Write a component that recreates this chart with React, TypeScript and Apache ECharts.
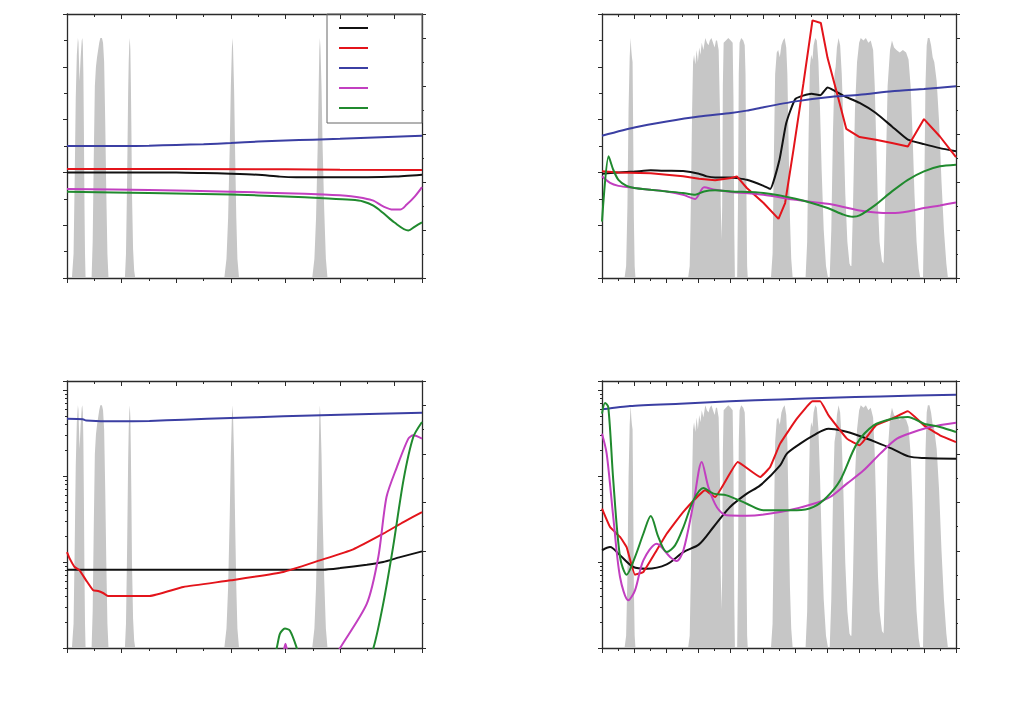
import React, { useEffect, useRef } from 'react';
import * as echarts from 'echarts';

// ---------- names & colours ----------
const SERIES_NAMES = ['Series 1', 'Series 2', 'Series 3', 'Series 4', 'Series 5'];
const SERIES_COLORS = ['#111111', '#e3141b', '#3b3fa3', '#c23fc0', '#208a2e'];
const BAND_COLOR = '#c6c6c6';

// ---------- band transmission (right axis, %) ----------
const bandsLeft: number[][] = [
  [400, 0], [409, 0], [412, 10], [414, 40], [416, 75], [418, 93], [420, 100], [421, 98], [422, 90], [423, 82], [424, 82], [425, 92], [427, 99], [428, 100], [429, 97], [430, 85], [431, 60], [432, 30], [433, 10], [434, 0],
  [445, 0], [447, 15], [449, 50], [451, 80], [453, 88], [455, 92], [457, 95], [459, 98], [461, 100], [464, 100], [466, 98], [468, 90], [470, 65], [472, 35], [474, 10], [476, 0],
  [506, 0], [508, 10], [510, 40], [512, 78], [513, 90], [514, 97], [515, 100], [516, 95], [517, 80], [518, 60], [519, 35], [521, 12], [523, 3], [525, 0],
  [688, 0], [692, 8], [695, 25], [698, 55], [700, 80], [702, 96], [703, 100], [704, 96], [706, 78], [708, 50], [710, 25], [712, 8], [715, 0],
  [849, 0], [853, 8], [856, 25], [859, 55], [861, 82], [862, 95], [863, 100], [864, 96], [866, 80], [868, 55], [871, 28], [874, 8], [877, 0],
  [1050, 0],
];

const bandsRight: number[][] = [
  [400, 0], [540, 0], [550, 5], [558, 30], [565, 70], [572, 92], [578, 100], [582, 95], [586, 92], [590, 90], [594, 60], [598, 25], [603, 5], [608, 0],
  [935, 0], [945, 5], [952, 30], [960, 70], [966, 90], [972, 93], [980, 89], [988, 95], [996, 90], [1004, 96], [1012, 93], [1020, 98], [1030, 95], [1042, 100], [1052, 98], [1062, 97], [1070, 99], [1080, 100], [1090, 98], [1100, 96], [1108, 99], [1115, 99], [1125, 95], [1133, 70], [1138, 30], [1143, 16], [1147, 30], [1151, 80], [1156, 98], [1170, 99], [1185, 100], [1200, 99], [1212, 98], [1217, 75], [1222, 20], [1226, 0],
  [1240, 0], [1245, 30], [1250, 85], [1255, 98], [1265, 100], [1278, 99], [1287, 97], [1292, 85], [1297, 40], [1302, 5], [1306, 0],
  [1450, 0], [1460, 10], [1468, 50], [1476, 85], [1486, 94], [1495, 95], [1505, 92], [1515, 97], [1525, 99], [1535, 100], [1545, 96], [1552, 85], [1560, 55], [1568, 25], [1576, 8], [1585, 0],
  [1665, 0], [1675, 15], [1684, 60], [1692, 88], [1700, 93], [1708, 91], [1715, 97], [1725, 100], [1735, 99], [1745, 90], [1755, 70], [1765, 45], [1778, 20], [1792, 5], [1805, 0],
  [1815, 0], [1825, 20], [1835, 60], [1845, 85], [1852, 88], [1860, 96], [1870, 100], [1880, 97], [1890, 85], [1900, 65], [1912, 35], [1925, 15], [1938, 6], [1945, 5],
  [1950, 5], [1960, 30], [1972, 70], [1985, 90], [1998, 98], [2008, 100], [2025, 99], [2040, 100], [2055, 98], [2070, 99], [2085, 95], [2095, 80], [2105, 55], [2115, 30], [2125, 15], [2140, 7], [2150, 6],
  [2152, 10], [2162, 40], [2175, 80], [2190, 95], [2202, 99], [2215, 96], [2230, 95], [2250, 94], [2270, 95], [2290, 94], [2305, 91], [2318, 80], [2330, 60], [2342, 35], [2355, 15], [2368, 4], [2378, 0],
  [2395, 0], [2402, 30], [2410, 80], [2418, 97], [2425, 100], [2435, 100], [2445, 97], [2455, 92], [2465, 90], [2480, 82], [2495, 65], [2510, 40], [2525, 20], [2540, 6], [2550, 0],
  [2600, 0],
];

// ---------- top-left panel ----------
const tlBlack = [[400, 0], [600, 0], [650, -0.002], [700, -0.005], [750, -0.009], [790, -0.016], [820, -0.018], [950, -0.018], [1000, -0.016], [1050, -0.009]];
const tlRed = [[400, 0.013], [600, 0.013], [800, 0.012], [900, 0.010], [1050, 0.009]];
const tlBlue = [[400, 0.100], [500, 0.100], [550, 0.101], [600, 0.104], [650, 0.107], [700, 0.111], [750, 0.117], [800, 0.121], [850, 0.124], [900, 0.127], [950, 0.131], [1000, 0.135], [1050, 0.139]];
const tlMagenta = [[400, -0.063], [550, -0.067], [700, -0.073], [800, -0.079], [870, -0.084], [920, -0.090], [942, -0.097], [961, -0.107], [979, -0.129], [997, -0.141], [1010, -0.141], [1022, -0.122], [1037, -0.091], [1050, -0.056]];
const tlGreen = [[400, -0.073], [550, -0.078], [700, -0.084], [800, -0.091], [870, -0.098], [920, -0.104], [942, -0.110], [961, -0.126], [979, -0.154], [999, -0.189], [1025, -0.220], [1037, -0.205], [1050, -0.189]];

// ---------- top-right panel ----------
const trBlack = [[400, -0.005], [502, 0], [601, 0.003], [703, 0.008], [802, 0.006], [904, 0.005], [1003, -0.005], [1051, -0.015], [1103, -0.019], [1202, -0.019], [1300, -0.028], [1404, -0.051], [1445, -0.063], [1503, 0.048], [1545, 0.187], [1603, 0.279], [1702, 0.298], [1756, 0.292], [1802, 0.322], [1901, 0.290], [2001, 0.263], [2102, 0.225], [2202, 0.174], [2301, 0.124], [2401, 0.107], [2500, 0.092], [2600, 0.080]];
const trRed = [[400, 0.004], [502, 0], [703, -0.003], [802, -0.009], [904, -0.015], [1003, -0.024], [1103, -0.030], [1202, -0.021], [1238, -0.015], [1300, -0.059], [1404, -0.116], [1497, -0.176], [1538, -0.116], [1590, 0.086], [1652, 0.338], [1708, 0.576], [1760, 0.566], [1802, 0.433], [1860, 0.301], [1918, 0.165], [2001, 0.134], [2102, 0.124], [2202, 0.111], [2301, 0.098], [2401, 0.202], [2500, 0.136], [2600, 0.058]];
const trBlue = [[400, 0.139], [601, 0.170], [802, 0.193], [1003, 0.212], [1202, 0.225], [1300, 0.234], [1404, 0.247], [1603, 0.269], [1802, 0.285], [2001, 0.294], [2202, 0.307], [2401, 0.316], [2600, 0.326]];
const trMagenta = [[400, -0.015], [450, -0.040], [502, -0.051], [601, -0.059], [703, -0.066], [802, -0.072], [904, -0.085], [979, -0.101], [1034, -0.056], [1103, -0.066], [1202, -0.074], [1404, -0.085], [1603, -0.104], [1802, -0.119], [1901, -0.131], [2001, -0.144], [2102, -0.152], [2202, -0.154], [2301, -0.148], [2401, -0.135], [2500, -0.125], [2600, -0.114]];
const trGreen = [[400, -0.186], [441, 0.061], [470, 0.010], [502, -0.028], [553, -0.051], [601, -0.059], [703, -0.066], [802, -0.072], [904, -0.078], [979, -0.085], [1034, -0.072], [1103, -0.068], [1202, -0.072], [1404, -0.078], [1603, -0.100], [1802, -0.135], [1901, -0.160], [1959, -0.168], [2001, -0.163], [2102, -0.122], [2202, -0.072], [2301, -0.028], [2401, 0.004], [2500, 0.023], [2600, 0.029]];

// ---------- bottom-left panel (log) ----------
const blBlack = [[400, 0.00815], [869, 0.00815], [900, 0.0085], [949, 0.0093], [979, 0.0100], [1010, 0.0114], [1050, 0.0133]];
const blRed = [[400, 0.01306], [405, 0.01094], [414, 0.00875], [423, 0.0080], [435, 0.00612], [448, 0.00469], [457, 0.0046], [466, 0.00436], [475, 0.00403], [551, 0.00403], [613, 0.00512], [700, 0.00612], [796, 0.00766], [863, 0.01045], [924, 0.01403], [979, 0.02133], [1016, 0.02917], [1050, 0.0381]];
const blBlue = [[400, 0.464], [429, 0.458], [435, 0.443], [490, 0.432], [551, 0.436], [613, 0.452], [700, 0.472], [796, 0.494], [900, 0.517], [1050, 0.545]];
const blMagenta = [[400, 0.0002], [780, 0.0004], [795, 0.0008], [800, 0.00112], [805, 0.0008], [820, 0.0004], [880, 0.0006], [900, 0.001], [949, 0.00328], [970, 0.01143], [985, 0.0570], [1004, 0.127], [1025, 0.272], [1034, 0.297], [1050, 0.272]];
const blGreen = [[400, 0.0002], [770, 0.0005], [784, 0.001], [790, 0.00147], [799, 0.00168], [808, 0.0016], [820, 0.00103], [830, 0.0006], [940, 0.0005], [961, 0.001], [979, 0.00328], [997, 0.0149], [1016, 0.0891], [1034, 0.284], [1050, 0.425]];

// ---------- bottom-right panel (log) ----------
const brBlack = [[400, 0.01368], [450, 0.0149], [512, 0.01197], [595, 0.00875], [678, 0.00836], [802, 0.0094], [906, 0.01306], [1003, 0.01603], [1093, 0.02553], [1196, 0.04365], [1300, 0.0624], [1383, 0.0778], [1507, 0.133], [1549, 0.182], [1632, 0.238], [1715, 0.297], [1808, 0.355], [1901, 0.333], [2001, 0.292], [2102, 0.248], [2202, 0.208], [2306, 0.169], [2401, 0.162], [2600, 0.159]];
const brRed = [[400, 0.0417], [450, 0.0255], [512, 0.01955], [553, 0.0149], [605, 0.00713], [657, 0.00766], [740, 0.01368], [802, 0.0213], [904, 0.0381], [1041, 0.0681], [1103, 0.0570], [1244, 0.1455], [1383, 0.0973], [1445, 0.1274], [1507, 0.238], [1611, 0.464], [1708, 0.738], [1756, 0.738], [1808, 0.507], [1922, 0.272], [2001, 0.228], [2102, 0.388], [2202, 0.464], [2301, 0.565], [2401, 0.388], [2500, 0.297], [2600, 0.248]];
const brBlue = [[400, 0.596], [574, 0.652], [885, 0.694], [1196, 0.738], [1507, 0.778], [1818, 0.814], [2129, 0.843], [2600, 0.883]];
const brMagenta = [[400, 0.310], [429, 0.182], [470, 0.0333], [512, 0.0067], [564, 0.00358], [605, 0.00469], [657, 0.01045], [740, 0.0163], [823, 0.01143], [864, 0.01028], [906, 0.0137], [968, 0.0476], [1020, 0.1455], [1061, 0.0745], [1113, 0.0437], [1175, 0.0349], [1300, 0.0345], [1507, 0.0381], [1715, 0.0476], [1818, 0.0570], [1922, 0.0815], [2026, 0.1164], [2129, 0.182], [2233, 0.272], [2337, 0.325], [2440, 0.372], [2600, 0.417]];
const brGreen = [[400, 0.531], [419, 0.706], [439, 0.634], [470, 0.0891], [512, 0.01143], [553, 0.00713], [605, 0.01143], [657, 0.0213], [703, 0.0343], [750, 0.01955], [802, 0.01306], [854, 0.01563], [906, 0.0255], [968, 0.0521], [1030, 0.0724], [1093, 0.0624], [1175, 0.0596], [1300, 0.0476], [1404, 0.0399], [1611, 0.0399], [1715, 0.0437], [1798, 0.0570], [1880, 0.0891], [1984, 0.238], [2088, 0.388], [2202, 0.464], [2301, 0.485], [2401, 0.406], [2500, 0.372], [2600, 0.325]];

// ---------- layout ----------
const GRIDS = [
  { left: 67, top: 14, width: 355, height: 264 },
  { left: 602, top: 14, width: 354, height: 264 },
  { left: 67, top: 381, width: 355, height: 267 },
  { left: 602, top: 381, width: 354, height: 267 },
];

const AXIS_COLOR = '#2a2a2a';

function xAxes(gridIndex: number, min: number, max: number, interval: number) {
  const base = {
    type: 'value',
    gridIndex,
    min,
    max,
    interval,
    axisLine: { show: true, onZero: false, lineStyle: { color: AXIS_COLOR, width: 1.3 } },
    axisLabel: { show: false },
    splitLine: { show: false },
    minorTick: { show: true, splitNumber: 2, length: 3, lineStyle: { color: AXIS_COLOR, width: 1 } },
  };
  return [
    { ...base, position: 'bottom', axisTick: { show: true, inside: false, length: 5, lineStyle: { color: AXIS_COLOR, width: 1 } } },
    { ...base, position: 'top', axisTick: { show: true, inside: true, length: 5, lineStyle: { color: AXIS_COLOR, width: 1 } } },
  ];
}

function yAxes(gridIndex: number, log: boolean) {
  const common = {
    gridIndex,
    axisLine: { show: true, onZero: false, lineStyle: { color: AXIS_COLOR, width: 1.3 } },
    axisLabel: { show: false },
    splitLine: { show: false },
  };
  const left = log
    ? {
        ...common,
        type: 'log',
        logBase: 10,
        min: 0.001,
        max: 1.273,
        position: 'left',
        axisTick: { show: true, length: 4, lineStyle: { color: AXIS_COLOR, width: 1 } },
        minorTick: { show: true, splitNumber: 9, length: 2, lineStyle: { color: AXIS_COLOR, width: 1 } },
      }
    : {
        ...common,
        type: 'value',
        min: -0.4,
        max: 0.6,
        interval: 0.2,
        position: 'left',
        axisTick: { show: true, length: 4, lineStyle: { color: AXIS_COLOR, width: 1 } },
        minorTick: { show: true, splitNumber: 2, length: 3, lineStyle: { color: AXIS_COLOR, width: 1 } },
      };
  const right = {
    ...common,
    type: 'value',
    min: 0,
    max: 110,
    interval: 20,
    position: 'right',
    axisTick: { show: true, length: 4, lineStyle: { color: AXIS_COLOR, width: 1 } },
    minorTick: { show: true, splitNumber: 2, length: 2, lineStyle: { color: AXIS_COLOR, width: 1 } },
  };
  return [left, right];
}

function bandSeries(gridIndex: number, data: number[][]) {
  return {
    type: 'line',
    xAxisIndex: gridIndex * 2,
    yAxisIndex: gridIndex * 2 + 1,
    data,
    symbol: 'none',
    lineStyle: { width: 0 },
    areaStyle: { color: BAND_COLOR, opacity: 1 },
    itemStyle: { color: BAND_COLOR },
    z: 1,
    silent: true,
  };
}

function lineSeries(gridIndex: number, idx: number, data: number[][], smooth: number) {
  return {
    type: 'line',
    name: SERIES_NAMES[idx],
    xAxisIndex: gridIndex * 2,
    yAxisIndex: gridIndex * 2,
    data,
    symbol: 'none',
    smooth,
    clip: true,
    color: SERIES_COLORS[idx],
    lineStyle: { color: SERIES_COLORS[idx], width: 2 },
    z: 3,
  };
}

export default function App() {
  const ref = useRef<HTMLDivElement>(null);

  useEffect(() => {
    document.body.style.margin = '0';
    if (!ref.current) return;
    const chart = echarts.init(ref.current, undefined, { renderer: 'svg' });

    const panels = [
      { lines: [tlBlack, tlRed, tlBlue, tlMagenta, tlGreen], smooth: [0.2, 0, 0.2, 0.3, 0.3], bands: bandsLeft },
      { lines: [trBlack, trRed, trBlue, trMagenta, trGreen], smooth: [0.15, 0, 0.2, 0.25, 0.25], bands: bandsRight },
      { lines: [blBlack, blRed, blBlue, blMagenta, blGreen], smooth: [0.2, 0.15, 0.2, 0.25, 0.25], bands: bandsLeft },
      { lines: [brBlack, brRed, brBlue, brMagenta, brGreen], smooth: [0.3, 0.1, 0.2, 0.3, 0.3], bands: bandsRight },
    ];

    const series: any[] = [];
    panels.forEach((p, g) => {
      series.push(bandSeries(g, p.bands));
      p.lines.forEach((d, i) => series.push(lineSeries(g, i, d, p.smooth[i])));
    });

    const option: any = {
      animation: false,
      backgroundColor: '#ffffff',
      grid: GRIDS.map((g) => ({ ...g, containLabel: false })),
      xAxis: [
        ...xAxes(0, 400, 1050, 100),
        ...xAxes(1, 400, 2600, 200),
        ...xAxes(2, 400, 1050, 100),
        ...xAxes(3, 400, 2600, 200),
      ],
      yAxis: [...yAxes(0, false), ...yAxes(1, false), ...yAxes(2, true), ...yAxes(3, true)],
      legend: {
        show: true,
        orient: 'vertical',
        left: 327,
        top: 14,
        padding: [13, 54, 14, 12],
        itemWidth: 29,
        itemHeight: 2,
        itemGap: 18,
        icon: 'rect',
        selectedMode: false,
        formatter: () => '',
        borderColor: '#666',
        borderWidth: 1,
        textStyle: { fontSize: 10 },
        data: SERIES_NAMES,
      },
      series,
    };

    chart.setOption(option);
    return () => chart.dispose();
  }, []);

  return <div ref={ref} style={{ position: 'absolute', left: 0, top: 0, width: 1024, height: 709 }} />;
}
